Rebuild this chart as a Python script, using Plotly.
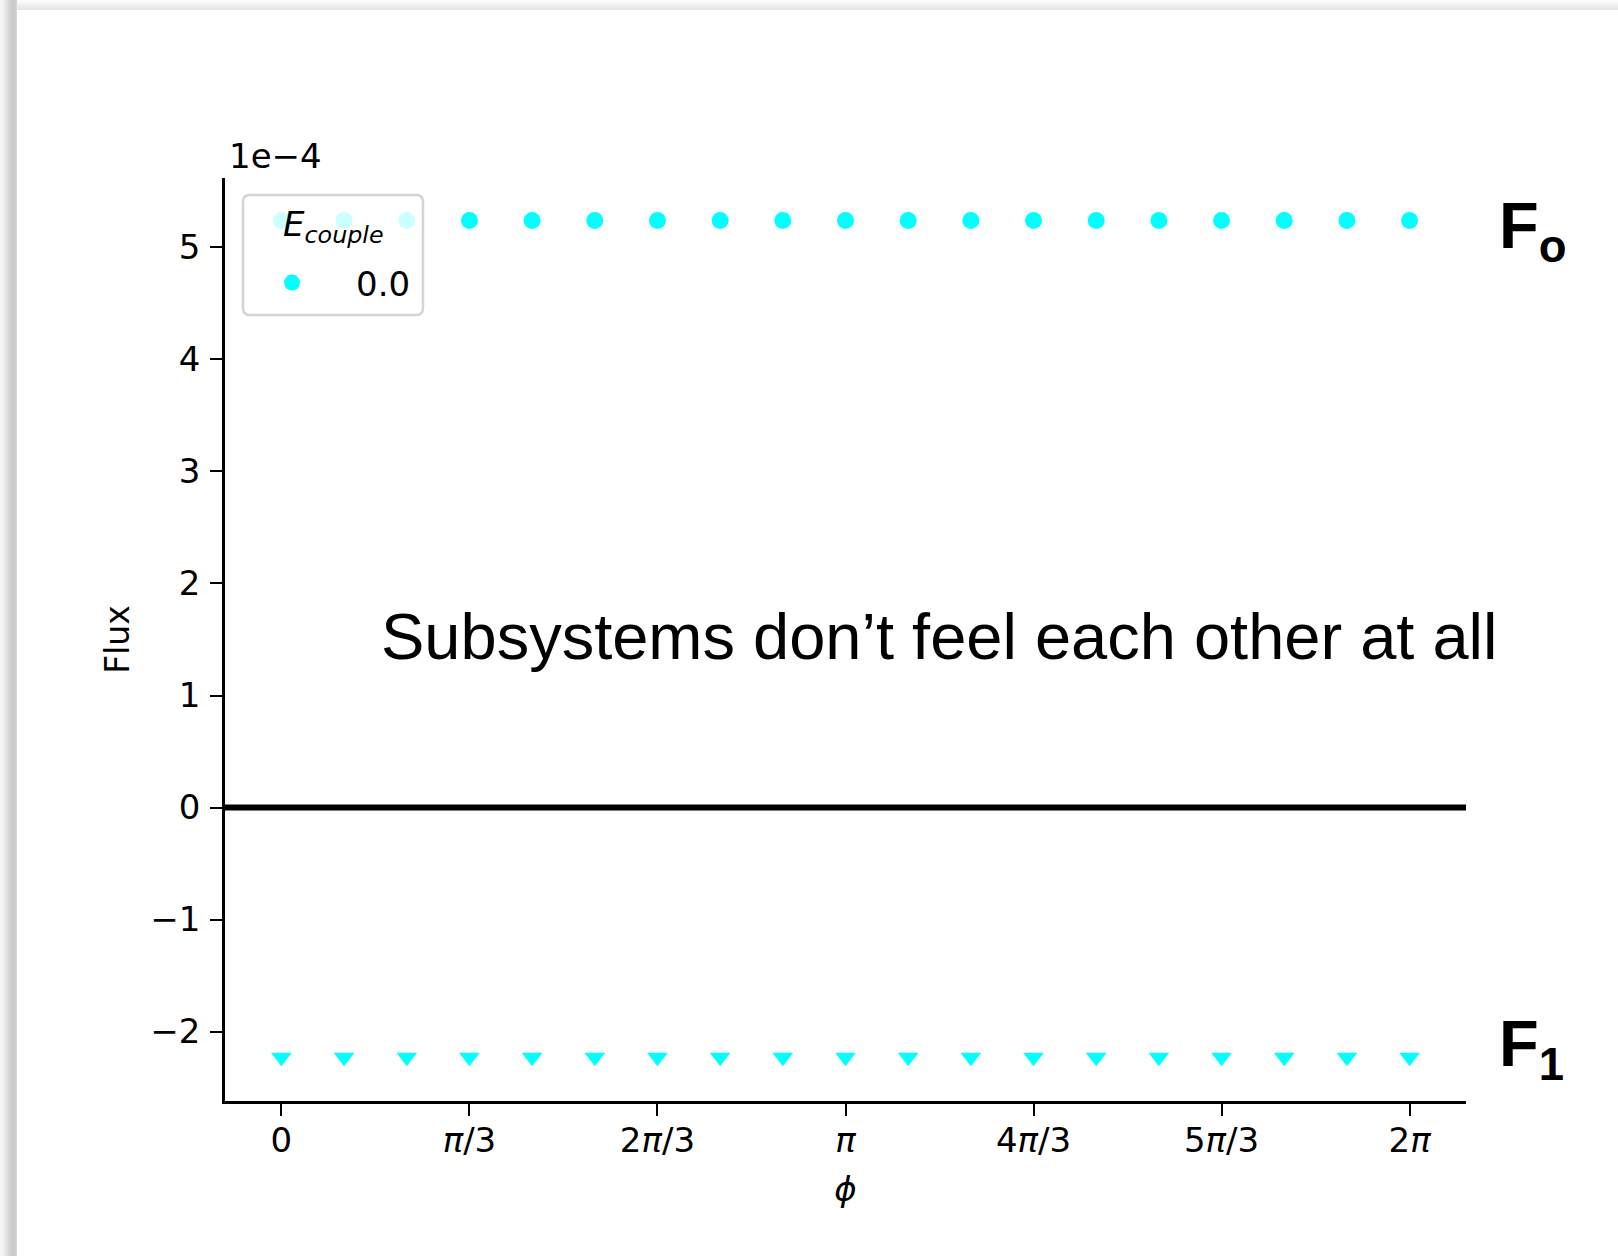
import plotly.graph_objects as go

# Phase angle samples (rad), 0 .. 2π in steps of π/9
phi = [0.0, 0.3491, 0.6981, 1.0472, 1.3963, 1.7453, 2.0944, 2.4435, 2.7925, 3.1416,
       3.4907, 3.8397, 4.1888, 4.5379, 4.8869, 5.2360, 5.5851, 5.9341, 6.2832]

# Fluxes of the two subsystems at E_couple = 0.0
flux_F0 = [5.24e-4] * 19
flux_F1 = [-2.23e-4] * 19

coupling_label = "0.0"

x_tick_vals = [0.0, 1.0472, 2.0944, 3.1416, 4.1888, 5.2360, 6.2832]
x_tick_text = ["0", "<i>π</i>/3", "2<i>π</i>/3", "<i>π</i>", "4<i>π</i>/3", "5<i>π</i>/3", "2<i>π</i>"]
y_tick_vals = [-2e-4, -1e-4, 0.0, 1e-4, 2e-4, 3e-4, 4e-4, 5e-4]
y_tick_text = ["−2", "−1", "0", "1", "2", "3", "4", "5"]

W, H = 1618, 1256
ML, MR, MT, MB = 225, 152, 178, 155
PW, PH = W - ML - MR, H - MT - MB


def px(x):
    return (x - ML) / PW


def py(y):
    return (H - MB - y) / PH


CYAN = "#00FFFF"
TICK_FONT = dict(family="DejaVu Sans", size=34, color="black")

fig = go.Figure()

fig.add_trace(go.Scatter(
    x=phi, y=flux_F0, mode="markers", name=coupling_label,
    marker=dict(symbol="circle", size=17, color=CYAN),
    showlegend=True,
))
fig.add_trace(go.Scatter(
    x=phi, y=flux_F1, mode="markers", name=coupling_label,
    marker=dict(symbol="triangle-down", size=18, color=CYAN),
    showlegend=False,
))

shapes = []
# zero-flux reference line across the axes
shapes.append(dict(type="line", xref="paper", yref="y", x0=0, x1=1, y0=0, y1=0,
                   line=dict(color="black", width=6), layer="above"))

# legend frame: rounded, semi-transparent box drawn over the markers
bx0, bx1, by0, by1, rad = 243, 423, 195, 315, 7
box_path = (
    f"M {px(bx0 + rad)},{py(by0)} L {px(bx1 - rad)},{py(by0)} "
    f"Q {px(bx1)},{py(by0)} {px(bx1)},{py(by0 + rad)} "
    f"L {px(bx1)},{py(by1 - rad)} Q {px(bx1)},{py(by1)} {px(bx1 - rad)},{py(by1)} "
    f"L {px(bx0 + rad)},{py(by1)} Q {px(bx0)},{py(by1)} {px(bx0)},{py(by1 - rad)} "
    f"L {px(bx0)},{py(by0 + rad)} Q {px(bx0)},{py(by0)} {px(bx0 + rad)},{py(by0)} Z"
)
shapes.append(dict(type="path", xref="paper", yref="paper", path=box_path,
                   fillcolor="rgba(255,255,255,0.8)", line=dict(color="#d4d4d4", width=2.5),
                   layer="above"))

# soft page shadow along the left and top edges
left_greys = [246, 244, 241, 238, 234, 230, 226, 222, 217, 212, 208, 205, 203, 202, 203, 206, 214]
for i, g in enumerate(left_greys):
    shapes.append(dict(type="rect", xref="paper", yref="paper",
                       x0=px(i), x1=px(i + 1), y0=py(H), y1=py(0),
                       fillcolor=f"rgb({g},{g},{g})", line=dict(width=0), layer="below"))
top_greys = [252, 250, 248, 246, 243, 240, 237, 234, 231, 229]
for j, g in enumerate(top_greys):
    shapes.append(dict(type="rect", xref="paper", yref="paper",
                       x0=px(len(left_greys)), x1=px(W), y0=py(j + 1), y1=py(j),
                       fillcolor=f"rgb({g},{g},{g})", line=dict(width=0), layer="below"))

annotations = [
    dict(text="1e−4", xref="paper", yref="paper", x=px(227), y=py(156),
         xanchor="left", yanchor="middle", showarrow=False,
         font=dict(family="DejaVu Sans", size=34, color="black")),
    dict(text="<i>E</i><sub><i>couple</i></sub>", xref="paper", yref="paper",
         x=px(333), y=py(226), xanchor="center", yanchor="middle", showarrow=False,
         font=dict(family="DejaVu Sans", size=34, color="black")),
    dict(text="Subsystems don’t feel each other at all", xref="paper", yref="paper",
         x=px(939), y=py(636), xanchor="center", yanchor="middle", showarrow=False,
         font=dict(family="Liberation Sans", size=65, color="black")),
    dict(text="<b>F<sub>o</sub></b>", xref="paper", yref="paper",
         x=px(1497), y=py(230), xanchor="left", yanchor="middle", showarrow=False,
         font=dict(family="Liberation Sans", size=65, color="black")),
    dict(text="<b>F<sub>1</sub></b>", xref="paper", yref="paper",
         x=px(1497), y=py(1048), xanchor="left", yanchor="middle", showarrow=False,
         font=dict(family="Liberation Sans", size=65, color="black")),
]

fig.update_layout(
    width=W, height=H,
    margin=dict(l=ML, r=MR, t=MT, b=MB, pad=0),
    paper_bgcolor="white", plot_bgcolor="white",
    shapes=shapes, annotations=annotations,
    legend=dict(
        x=px(228), y=py(283), xanchor="left", yanchor="middle",
        bgcolor="rgba(0,0,0,0)", borderwidth=0, itemwidth=118,
        font=dict(family="DejaVu Sans", size=34, color="black"),
    ),
    xaxis=dict(
        range=[-0.3142, 6.5974], showgrid=False, zeroline=False,
        showline=True, linecolor="black", linewidth=2.5,
        ticks="outside", ticklen=12, tickwidth=2.2, tickcolor="black",
        tickvals=x_tick_vals, ticktext=x_tick_text, tickfont=TICK_FONT,
        ticklabelstandoff=-5,
        title=dict(text="<i>ϕ</i>", font=dict(family="DejaVu Sans", size=34, color="black"),
                   standoff=19),
    ),
    yaxis=dict(
        range=[-2.62e-4, 5.62e-4], showgrid=False, zeroline=False,
        showline=True, linecolor="black", linewidth=2.5,
        ticks="outside", ticklen=12, tickwidth=2.2, tickcolor="black",
        tickvals=y_tick_vals, ticktext=y_tick_text, tickfont=TICK_FONT,
        ticklabelstandoff=3,
        title=dict(text="Flux", font=dict(family="DejaVu Sans", size=33, color="black"),
                   standoff=11),
    ),
)

fig.write_html("out.html")
